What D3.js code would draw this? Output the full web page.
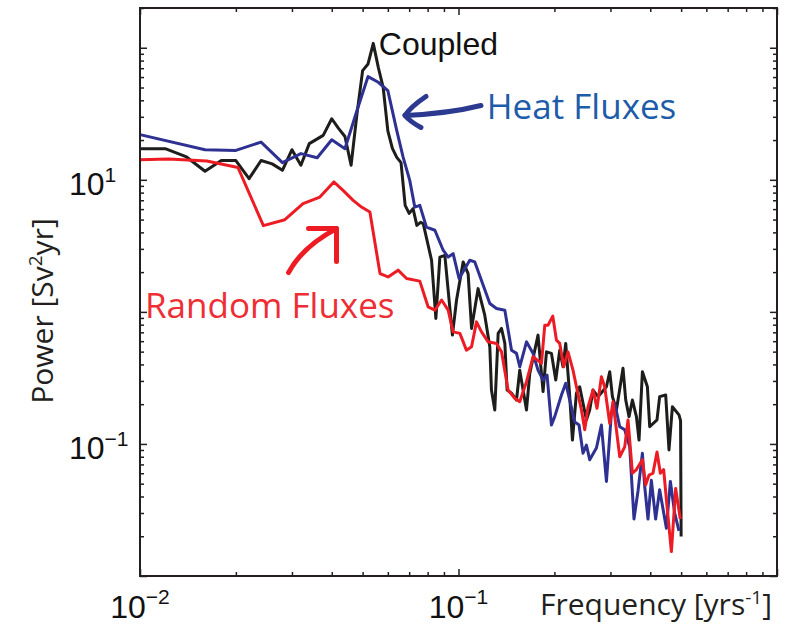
<!DOCTYPE html>
<html>
<head>
<meta charset="utf-8">
<script src="https://cdn.jsdelivr.net/npm/d3@7"></script>
<style>
  body { margin: 0; background: #fff; }
  svg { display: block; }
</style>
</head>
<body>
<div id="chart"></div>
<script>
// spectra (frequency in 1/yr, power in Sv^2 yr)
const coupledFreq = [0.010, 0.012, 0.014, 0.016, 0.018, 0.020, 0.022, 0.024, 0.026, 0.028,
  0.030, 0.032, 0.034, 0.0376, 0.040, 0.042, 0.044, 0.046, 0.048, 0.050,
  0.052, 0.054, 0.056, 0.058, 0.060, 0.062, 0.064, 0.066, 0.068, 0.070,
  0.072, 0.074, 0.076, 0.0775, 0.0823, 0.0849, 0.0874, 0.0906, 0.0957, 0.0986,
  0.1034, 0.1072, 0.1099, 0.1152, 0.1209, 0.1254, 0.1269, 0.1300, 0.1332, 0.1365,
  0.1398, 0.1421, 0.1467, 0.1521, 0.1557, 0.1635, 0.1674, 0.1777, 0.1843, 0.1889,
  0.1958, 0.2020, 0.2079, 0.2129, 0.2171, 0.2235, 0.2279, 0.2346, 0.2402, 0.2521,
  0.2582, 0.2645, 0.2742, 0.2914, 0.2984, 0.3043, 0.3132, 0.3285, 0.3350, 0.3431,
  0.3516, 0.3619, 0.3688, 0.3779, 0.3918, 0.3984, 0.4200, 0.4281, 0.4472, 0.4580,
  0.4694, 0.4923, 0.498, 0.500];
const coupledPower = [17.2, 17.2, 14.9, 11.6, 14.0, 14.0, 10.2, 14.0, 13.2, 11.8,
  16.9, 12.9, 18.8, 21.7, 29.0, 24.5, 21.3, 12.9, 31.6, 67.1,
  75.4, 108, 71.1, 50.2, 23.5, 17.3, 14.8, 13.5, 6.41, 5.57,
  6.05, 4.52, 4.76, 4.66, 2.46, 0.891, 2.60, 2.68, 0.667, 1.23,
  2.39, 1.95, 0.749, 1.50, 0.944, 0.544, 0.256, 0.181, 0.687, 0.749,
  0.577, 0.256, 0.242, 0.215, 0.362, 0.181, 0.342, 0.667, 0.249, 0.498,
  0.485, 0.305, 0.513, 0.384, 0.577, 0.228, 0.107, 0.242, 0.271, 0.152,
  0.181, 0.256, 0.228, 0.271, 0.352, 0.228, 0.181, 0.374, 0.215, 0.161,
  0.215, 0.161, 0.107, 0.352, 0.271, 0.135, 0.152, 0.228, 0.235, 0.090,
  0.191, 0.166, 0.150, 0.0199];

const heatFreq = [0.010, 0.016, 0.020, 0.024, 0.028, 0.032, 0.036, 0.040, 0.044, 0.048,
  0.052, 0.056, 0.060, 0.064, 0.0670, 0.0703, 0.0729, 0.0756, 0.0793, 0.0843,
  0.0895, 0.0928, 0.0962, 0.1004, 0.1085, 0.1125, 0.1254, 0.1316, 0.1398, 0.1467,
  0.1521, 0.1557, 0.1635, 0.1714, 0.1777, 0.1843, 0.1897, 0.1958, 0.2005, 0.2105,
  0.2171, 0.2235, 0.2317, 0.2390, 0.2460, 0.2521, 0.2582, 0.2710, 0.2810, 0.2914,
  0.3020, 0.3094, 0.3208, 0.3326, 0.3448, 0.3556, 0.3661, 0.3779, 0.3842, 0.3935,
  0.4032, 0.4159, 0.4281, 0.4495, 0.4626, 0.4772, 0.4923];
const heatPower = [22.0, 16.9, 16.7, 19.3, 13.5, 15.8, 14.7, 20.1, 17.2, 33.5,
  60.5, 54.8, 47.4, 23.6, 14.85, 9.90, 6.22, 6.41, 4.39, 4.15,
  2.93, 2.60, 2.76, 1.79, 2.46, 2.39, 1.157, 1.061, 1.03, 0.513,
  0.485, 0.384, 0.593, 0.485, 0.362, 0.305, 0.332, 0.139, 0.161, 0.235,
  0.288, 0.215, 0.147, 0.139, 0.085, 0.098, 0.076, 0.093, 0.139, 0.052,
  0.171, 0.203, 0.135, 0.128, 0.095, 0.027, 0.044, 0.085, 0.048, 0.027,
  0.053, 0.027, 0.045, 0.023, 0.052, 0.030, 0.022];

const randomFreq = [0.0100, 0.0123, 0.0162, 0.0203, 0.0244, 0.0285, 0.0325, 0.0367, 0.0406, 0.0434,
  0.0467, 0.0496, 0.0527, 0.0567, 0.0601, 0.0646, 0.0687, 0.0756, 0.0803, 0.0843,
  0.0885, 0.0928, 0.0962, 0.1010, 0.1059, 0.1099, 0.1139, 0.1181, 0.1239, 0.1316,
  0.1365, 0.1431, 0.1502, 0.1557, 0.1635, 0.1714, 0.1822, 0.1866, 0.1910, 0.1977,
  0.2030, 0.2079, 0.2140, 0.2207, 0.2288, 0.2346, 0.2432, 0.2491, 0.2551, 0.2645,
  0.2722, 0.2810, 0.2877, 0.2984, 0.3055, 0.3208, 0.3326, 0.3406, 0.3516, 0.3619,
  0.3779, 0.3870, 0.3963, 0.4079, 0.4200, 0.4303, 0.4407, 0.4514, 0.4660, 0.4807,
  0.4969];
const randomPower = [14.2, 14.4, 13.9, 12.4, 4.50, 4.99, 6.60, 7.40, 9.64, 8.32,
  6.99, 6.22, 5.70, 1.95, 1.84, 2.07, 1.79, 1.71, 1.09, 1.03,
  1.23, 1.03, 0.706, 0.687, 0.513, 0.544, 0.840, 0.706, 0.593, 0.577,
  0.498, 0.256, 0.222, 0.209, 0.296, 0.457, 0.407, 0.793, 0.793, 0.928,
  0.611, 0.577, 0.384, 0.498, 0.362, 0.271, 0.181, 0.128, 0.191, 0.256,
  0.186, 0.323, 0.271, 0.143, 0.209, 0.080, 0.095, 0.152, 0.060, 0.064,
  0.076, 0.049, 0.058, 0.060, 0.087, 0.060, 0.064, 0.034, 0.0153, 0.046,
  0.027];

// tick labels (base 10, exponent)
const xTickLabels = [{ v: 0.01, exp: "\u22122" }, { v: 0.1, exp: "\u22121" }];
const yTickLabels = [{ v: 10, exp: "1" }, { v: 0.1, exp: "\u22121" }];

const width = 787;
const height = 626;
const margin = { top: 8, right: 10, bottom: 50, left: 140 };

const svg = d3.select("#chart")
  .append("svg")
  .attr("width", width)
  .attr("height", height);

const x = d3.scaleLog()
  .domain([0.01, 1])
  .range([margin.left, width - margin.right]);

const y = d3.scaleLog()
  .domain([0.01, 200])
  .range([height - margin.bottom, margin.top]);

// major / minor tick positions for log axes
function logTicks(lo, hi) {
  const major = [], minor = [];
  for (let e = Math.floor(Math.log10(lo)); e <= Math.ceil(Math.log10(hi)); e++) {
    for (let k = 1; k <= 9; k++) {
      const v = k * Math.pow(10, e);
      if (v < lo * 0.999 || v > hi * 1.001) continue;
      (k === 1 ? major : minor).push(v);
    }
  }
  return { major, minor };
}
const xt = logTicks(0.01, 1);
const yt = logTicks(0.01, 200);

const axisColor = "#231f20";

function drawTicks(axisFn, scale, values, size, transform) {
  const g = svg.append("g")
    .attr("transform", transform)
    .call(axisFn(scale).tickValues(values).tickSize(-size).tickFormat(""));
  g.select(".domain").remove();
  g.selectAll(".tick line").attr("stroke", axisColor).attr("stroke-width", 1.5);
}

const bottomY = height - margin.bottom;
const rightX = width - margin.right;
drawTicks(d3.axisBottom, x, xt.major, 7, `translate(0,${bottomY})`);
drawTicks(d3.axisBottom, x, xt.minor, 4, `translate(0,${bottomY})`);
drawTicks(d3.axisTop, x, xt.major, 7, `translate(0,${margin.top})`);
drawTicks(d3.axisTop, x, xt.minor, 4, `translate(0,${margin.top})`);
drawTicks(d3.axisLeft, y, yt.major, 7, `translate(${margin.left},0)`);
drawTicks(d3.axisLeft, y, yt.minor, 4, `translate(${margin.left},0)`);
drawTicks(d3.axisRight, y, yt.major, 7, `translate(${rightX},0)`);
drawTicks(d3.axisRight, y, yt.minor, 4, `translate(${rightX},0)`);

// spectra
const line = d3.line()
  .x(d => x(d[0]))
  .y(d => y(d[1]));

const series = [
  { freq: coupledFreq, power: coupledPower, color: "#1d1d1b" },
  { freq: heatFreq, power: heatPower, color: "#2e3192" },
  { freq: randomFreq, power: randomPower, color: "#ed1c24" }
];

svg.append("g")
  .selectAll("path")
  .data(series)
  .join("path")
  .attr("fill", "none")
  .attr("stroke", d => d.color)
  .attr("stroke-width", 3)
  .attr("stroke-linejoin", "round")
  .attr("d", d => line(d3.zip(d.freq, d.power)));

// box
svg.append("rect")
  .attr("x", margin.left)
  .attr("y", margin.top)
  .attr("width", rightX - margin.left)
  .attr("height", bottomY - margin.top)
  .attr("fill", "none")
  .attr("stroke", axisColor)
  .attr("stroke-width", 2);

// tick labels
const tickFont = "'Liberation Sans', Arial, Helvetica, sans-serif";

const yl = svg.append("g")
  .selectAll("text")
  .data(yTickLabels)
  .join("text")
  .attr("x", 69)
  .attr("y", d => y(d.v) + 15)
  .attr("font-family", tickFont)
  .attr("font-size", 32)
  .attr("fill", "#111");
yl.append("tspan").text("10");
yl.append("tspan").attr("dy", -13).attr("font-size", 21).text(d => d.exp);

const xl = svg.append("g")
  .selectAll("text")
  .data(xTickLabels)
  .join("text")
  .attr("x", d => x(d.v))
  .attr("y", 618)
  .attr("text-anchor", "middle")
  .attr("font-family", tickFont)
  .attr("font-size", 32)
  .attr("fill", "#111");
xl.append("tspan").text("10");
xl.append("tspan").attr("dy", -14).attr("font-size", 21).text(d => d.exp);

// axis titles
const labelFont = "'Open Sans', 'Noto Sans', sans-serif";

const xTitle = svg.append("text")
  .attr("x", 540)
  .attr("y", 615)
  .attr("font-family", labelFont)
  .attr("font-size", 30)
  .attr("fill", axisColor);
xTitle.append("tspan").text("Frequency [yrs");
xTitle.append("tspan").attr("dy", -11).attr("font-size", 19).text("-1");
xTitle.append("tspan").attr("dy", 11).text("]");

const yTitle = svg.append("text")
  .attr("transform", "translate(53,311) rotate(-90)")
  .attr("text-anchor", "middle")
  .attr("font-family", labelFont)
  .attr("font-size", 30)
  .attr("fill", axisColor);
yTitle.append("tspan").text("Power [Sv");
yTitle.append("tspan").attr("dy", -11).attr("font-size", 19).text("2");
yTitle.append("tspan").attr("dy", 11).text("yr]");

// annotations
svg.append("text")
  .attr("x", x(0.0562))
  .attr("y", y(88))
  .attr("font-family", tickFont)
  .attr("font-size", 32)
  .attr("fill", "#111")
  .text("Coupled");

svg.append("text")
  .attr("x", x(0.1227))
  .attr("y", y(29.1))
  .attr("font-family", labelFont)
  .attr("font-size", 35)
  .attr("fill", "#1d5ca9")
  .text("Heat Fluxes");

svg.append("text")
  .attr("x", x(0.01037))
  .attr("y", y(0.891))
  .attr("font-family", labelFont)
  .attr("font-size", 35)
  .attr("fill", "#ee2d35")
  .text("Random Fluxes");

// hand-drawn style arrows, anchored at their tips
const heatTip = [x(0.0679), y(30.7)];
const heatArrow = svg.append("g")
  .attr("transform", `translate(${heatTip[0]},${heatTip[1]})`)
  .attr("fill", "none")
  .attr("stroke", "#2b3990")
  .attr("stroke-width", 5)
  .attr("stroke-linecap", "round")
  .attr("stroke-linejoin", "round");
heatArrow.append("path").attr("d", "M76,-10 Q44,-2 0,0");
heatArrow.append("path").attr("d", "M21,-19 Q6,-9 0,0 Q5,6 16,12");

const randomTip = [x(0.0414), y(4.27)];
const randomArrow = svg.append("g")
  .attr("transform", `translate(${randomTip[0]},${randomTip[1]})`)
  .attr("fill", "none")
  .attr("stroke", "#ed1c24")
  .attr("stroke-width", 5)
  .attr("stroke-linecap", "round")
  .attr("stroke-linejoin", "round");
randomArrow.append("path").attr("d", "M-48,44 Q-34,18 0,0");
randomArrow.append("path").attr("d", "M-28,0 L0,0 L0,33");
</script>
</body>
</html>
